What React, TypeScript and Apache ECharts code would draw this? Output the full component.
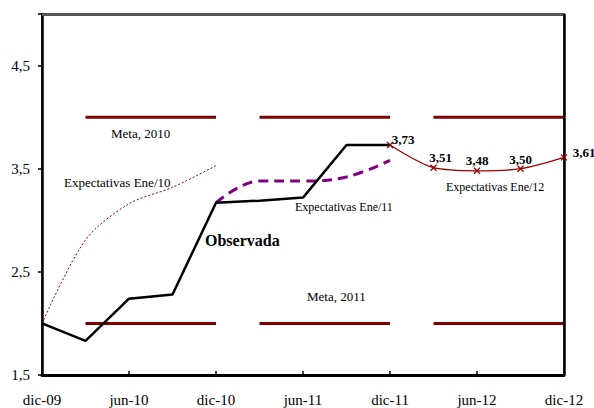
import React, { useEffect, useRef } from "react";
import * as echarts from "echarts";

const categories = ["dic-09", "mar-10", "jun-10", "sep-10", "dic-10", "mar-11", "jun-11", "sep-11", "dic-11", "mar-12", "jun-12", "sep-12", "dic-12"];
const observada = [2.0, 1.83, 2.24, 2.28, 3.17, 3.19, 3.22, 3.73, 3.73, null, null, null, null];
const expEne10 = [2.0, 2.81, 3.16, 3.32, 3.53, null, null, null, null, null, null, null, null];
const expEne11 = [null, null, null, null, 3.17, 3.38, 3.38, 3.42, 3.58, null, null, null, null];
const expEne12 = [null, null, null, null, null, null, null, null, 3.73, 3.51, 3.48, 3.5, 3.61];
const metaYears = ["2010", "2011", "2012"];
const metaUpper = [4.0, 4.0, 4.0];
const metaLower = [2.0, 2.0, 2.0];
const yTicks = [1.5, 2.5, 3.5, 4.5];
const yMax = 5;

const SERIF = "Liberation Serif";
const META_COLOR = "#800000";
const RED = "#990000";

export default function App() {
  const ref = useRef<HTMLDivElement>(null);
  useEffect(() => {
    document.body.style.margin = "0";
    if (!ref.current) return;
    const chart = echarts.init(ref.current, null, { renderer: "svg" });

    const metaSeries: any[] = [];
    metaYears.forEach((yr, i) => {
      [metaUpper[i], metaLower[i]].forEach((v, k) => {
        const data = categories.map((_, idx) => (idx >= 1 + i * 4 && idx <= 4 + i * 4 ? v : null));
        metaSeries.push({
          name: `Meta ${yr} ${k === 0 ? "sup" : "inf"}`,
          type: "line",
          data,
          symbol: "none",
          lineStyle: { color: META_COLOR, width: 3 },
          z: 1,
        });
      });
    });

    const labelPlacement = [
      { position: "right", offset: [-7, -5] },
      { position: "top", offset: [7, 5] },
      { position: "top", offset: [0, 4.6] },
      { position: "top", offset: [0, 5.5] },
      { position: "right", offset: [0, -4.5] },
    ];
    let lp = 0;
    const ene12Data = expEne12.map((v) => {
      if (v == null) return null;
      const p = labelPlacement[lp++];
      return {
        value: v,
        label: {
          show: true,
          position: p.position,
          offset: p.offset,
          formatter: (d: any) => Number(d.value).toFixed(2).replace(".", ","),
          fontFamily: SERIF,
          fontWeight: "bold",
          fontSize: 13,
          color: "#000",
        },
      };
    });

    const textEl = (text: string, x: number, y: number, size: number, bold = false) => ({
      type: "text",
      x,
      y,
      style: {
        text,
        fill: "#000",
        fontFamily: SERIF,
        fontSize: size,
        fontWeight: bold ? "bold" : "normal",
        textAlign: "left",
        textVerticalAlign: "middle",
      },
      z: 100,
    });

    const axisLbl = { color: "#000", fontFamily: SERIF, fontSize: 15 };

    chart.setOption({
      animation: false,
      textStyle: { fontFamily: SERIF },
      grid: {
        left: 42,
        right: 30,
        top: 14,
        bottom: 33,
        show: true,
        borderColor: "#555",
        borderWidth: 2,
      },
      xAxis: {
        type: "category",
        data: categories,
        boundaryGap: false,
        axisLine: { show: true, lineStyle: { color: "#000", width: 3 } },
        axisTick: { show: true, inside: true, interval: 1, length: 4, lineStyle: { color: "#000", width: 1.5 } },
        axisLabel: { ...axisLbl, interval: 1, margin: 17 },
        splitLine: { show: false },
      },
      yAxis: {
        type: "value",
        min: yTicks[0],
        max: yMax,
        interval: 1,
        axisLine: { show: true, lineStyle: { color: "#000", width: 2.5 } },
        axisTick: { show: true, length: 4, lineStyle: { color: "#000", width: 1.5 } },
        axisLabel: {
          ...axisLbl,
          margin: 12,
          formatter: (v: number) =>
            yTicks.some((t) => Math.abs(t - v) < 1e-6) ? v.toFixed(1).replace(".", ",") : "",
        },
        splitLine: { show: false },
      },
      series: [
        ...metaSeries,
        {
          name: "Expectativas Ene/10",
          type: "line",
          data: expEne10,
          symbol: "none",
          smooth: 0.3,
          lineStyle: { color: RED, width: 1, type: [2, 2] },
          z: 2,
        },
        {
          name: "Expectativas Ene/11",
          type: "line",
          data: expEne11,
          symbol: "none",
          smooth: 0.4,
          lineStyle: { color: "#800080", width: 3, type: [10, 6] },
          z: 3,
        },
        {
          name: "Observada",
          type: "line",
          data: observada,
          symbol: "none",
          lineStyle: { color: "#000", width: 2.5 },
          z: 4,
          markLine: {
            silent: true,
            symbol: "none",
            label: { show: false },
            data: [
              { yAxis: yMax, lineStyle: { color: "#555", width: 3, type: "solid" } },
              { xAxis: categories[categories.length - 1], lineStyle: { color: "#000", width: 2.5, type: "solid" } },
            ],
          },
        },
        {
          name: "Expectativas Ene/12",
          type: "line",
          data: ene12Data,
          smooth: 0.3,
          symbol: "path://M0 0L10 10M10 0L0 10",
          symbolSize: 6,
          showAllSymbol: true,
          itemStyle: { color: RED, borderColor: RED, borderWidth: 1.3 },
          lineStyle: { color: RED, width: 1.3 },
          z: 5,
        },
      ],
      graphic: [
        textEl("Meta, 2010", 111, 133.6, 13),
        textEl("Expectativas Ene/10", 64, 182.6, 13),
        textEl("Observada", 205, 240.6, 16, true),
        textEl("Expectativas Ene/11", 295, 206.6, 12),
        textEl("Expectativas Ene/12", 446, 186.5, 12),
        textEl("Meta, 2011", 307, 296.3, 13),
      ],
    });
    return () => chart.dispose();
  }, []);
  return <div ref={ref} style={{ width: 594, height: 408 }} />;
}
